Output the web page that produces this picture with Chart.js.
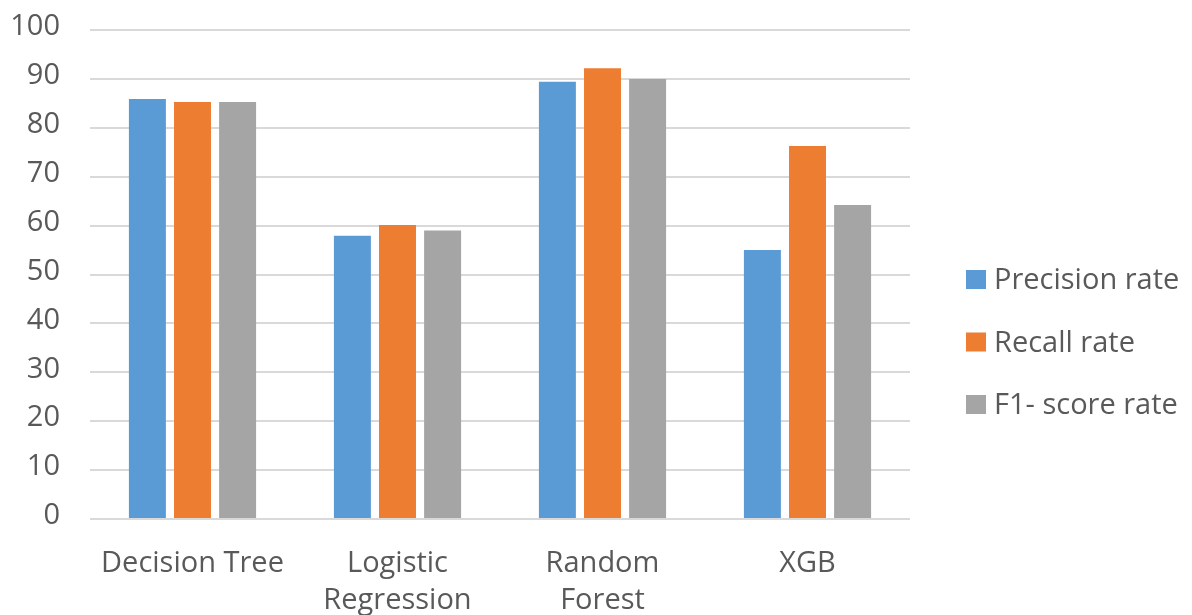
<!DOCTYPE html>
<html>
<head>
<meta charset="utf-8">
<script src="https://cdn.jsdelivr.net/npm/chart.js@4"></script>
<style>
  html, body { margin: 0; padding: 0; background: #ffffff; }
  #wrap { width: 1192px; height: 615px; position: relative; }
</style>
</head>
<body>
<div id="wrap"><canvas id="chart"></canvas></div>
<script>
// Model names on the x axis (multi-line where the label wraps)
const categories = [
  'Decision Tree',
  ['Logistic', 'Regression'],
  ['Random', 'Forest'],
  'XGB'
];

// Scores (%) per model
const precisionRate = [85.9, 57.9, 89.4, 55.0];
const recallRate    = [85.3, 60.1, 92.2, 76.3];
const f1ScoreRate   = [85.3, 59.0, 90.0, 64.2];

const seriesNames = ['Precision rate', 'Recall rate', 'F1- score rate'];
const seriesColors = ['#5B9BD5', '#ED7D31', '#A5A5A5'];

const yTicks = { min: 0, max: 100, step: 10 };

const FONT = "'Open Sans', 'Noto Sans', sans-serif";
const FONT_SIZE = 29;
const TEXT = '#595959';

// Legend drawn in the right-hand margin, one row per dataset
const sideLegend = {
  id: 'sideLegend',
  afterDraw(chart) {
    const c = chart.ctx;
    const x = 966, firstBaseline = 289, rowGap = 62.5, box = 19;
    c.save();
    c.font = FONT_SIZE + 'px ' + FONT;
    c.textBaseline = 'alphabetic';
    c.textAlign = 'left';
    chart.data.datasets.forEach((ds, i) => {
      const base = firstBaseline + i * rowGap;
      c.fillStyle = ds.backgroundColor;
      c.fillRect(x, base - box, 20, box);
      c.fillStyle = TEXT;
      c.fillText(ds.label, x + 28, base);
    });
    c.restore();
  }
};

const ctx = document.getElementById('chart');
new Chart(ctx, {
  type: 'bar',
  data: {
    labels: categories,
    datasets: [precisionRate, recallRate, f1ScoreRate].map((vals, i) => ({
      label: seriesNames[i],
      data: vals,
      backgroundColor: seriesColors[i],
      borderWidth: 0,
      categoryPercentage: 0.66,
      barPercentage: 0.82
    }))
  },
  options: {
    responsive: true,
    maintainAspectRatio: false,
    animation: false,
    layout: { padding: { top: 30, right: 282, left: 0, bottom: 0 } },
    plugins: {
      tooltip: { enabled: false },
      legend: { display: false }
    },
    scales: {
      x: {
        grid: { display: false },
        border: { display: false },
        ticks: {
          color: TEXT,
          font: { family: FONT, size: FONT_SIZE, lineHeight: 1.28 },
          maxRotation: 0,
          autoSkip: false,
          padding: 18
        },
        afterFit(scale) { scale.height = 96; }
      },
      y: {
        min: yTicks.min,
        max: yTicks.max,
        grid: { color: '#D9D9D9', lineWidth: 2, drawTicks: false },
        border: { display: false },
        ticks: {
          stepSize: yTicks.step,
          color: TEXT,
          font: { family: FONT, size: FONT_SIZE },
          padding: 30,
          labelOffset: -3
        },
        afterFit(scale) {
          scale.width = 90;
          scale.paddingTop = 0;
        }
      }
    }
  },
  plugins: [sideLegend]
});
</script>
</body>
</html>
